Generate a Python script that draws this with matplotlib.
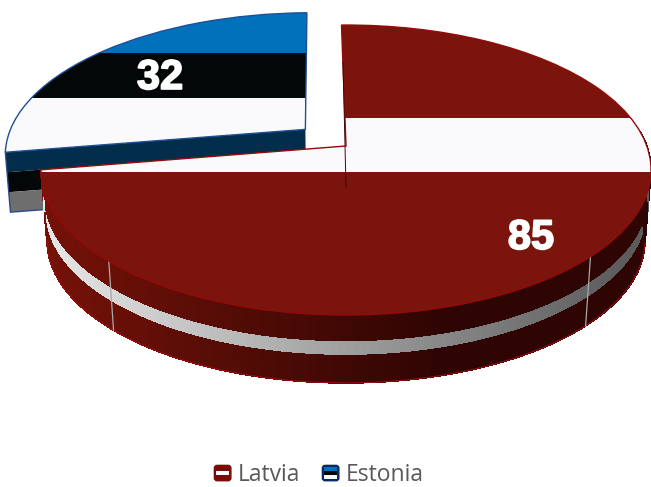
import numpy as np
import matplotlib
matplotlib.use("Agg")
import matplotlib.pyplot as plt
import matplotlib.patheffects as pe
from matplotlib.collections import PolyCollection
from matplotlib.legend_handler import HandlerBase
from matplotlib.patches import FancyBboxPatch, Patch, Rectangle, Wedge
from matplotlib.transforms import Transform

labels = ["Latvia", "Estonia"]
values = [85, 32]
explode = [0, 0.188]

RED = "#7a140c"
BLUE = "#0072bc"
BLACK = "#030708"
WHITE = "#fafafc"


class Persp(Transform):
    # flat disc to screen pixels, the far side of the pie comes out smaller
    input_dims = 2
    output_dims = 2

    def __init__(self, scale=1.0, cy=146.0, cx=346.0):
        super().__init__()
        self.scale = scale
        self.cy = cy
        self.cx = cx

    def transform_non_affine(self, values):
        values = np.asarray(values, dtype=float)
        u, v = values[:, 0], values[:, 1]
        w = 1 + 0.1656 * v
        return np.column_stack([self.cx + self.scale * 300.8 * u / w,
                                self.cy - self.scale * 141 * v / w])


def rim(center, angles):
    a = np.radians(angles)
    return np.column_stack([center[0] + np.cos(a), center[1] + np.sin(a)])


def blend(x, left, right, x_end):
    t = np.clip((x - 41) / (x_end - 41), 0, 1)
    return tuple(np.array(left) * (1 - t) + np.array(right) * t)


class FlagHandler(HandlerBase):
    def __init__(self, edge, stripes):
        super().__init__()
        self.edge = edge
        self.stripes = stripes

    def create_artists(self, legend, orig, xd, yd, width, height, fontsize, trans):
        box = FancyBboxPatch((-xd + 1, -yd + 1), width - 2, height - 2,
                             boxstyle="round,pad=0,rounding_size=2",
                             fc=self.edge, ec=self.edge, lw=1, transform=trans)
        out = [box]
        n = len(self.stripes)
        for i, c in enumerate(self.stripes):
            hh = height * (0.62 if n > 1 else 0.24) / n
            y0 = -yd + height * 0.5 + hh * n / 2 - hh * (i + 1)
            out.append(Rectangle((-xd + width * 0.16, y0), width * 0.68, hh,
                                 fc=c, ec="none", transform=trans))
        return out


fig = plt.figure(figsize=(6.51, 4.87), dpi=100)
ax = fig.add_axes([0, 0, 1, 1])

wedges, _ = ax.pie(values, explode=explode, startangle=91, counterclock=False,
                   colors=[RED, BLUE], wedgeprops={"linewidth": 0})
ax.set_aspect("auto")
ax.set_xlim(0, 651)
ax.set_ylim(487, 0)
ax.axis("off")

top = Persp()
top_e = Persp(cx=348)
latvia, estonia = wedges
latvia.set_transform(top + ax.transData)
estonia.set_transform(top_e + ax.transData)
latvia.set_zorder(6)
estonia.set_zorder(2)

# estonia, side under the cut edge
bottom_e = Persp(0.985, 206, 348)
cut = np.array([estonia.center, rim(estonia.center, [estonia.theta2])[0]])
cut_top = top_e.transform(cut)
cut_bot = bottom_e.transform(cut)
side_cols = ["#022d4b", BLACK, "#6e6e6e"]
for i, c in enumerate(side_cols):
    a = cut_top + (cut_bot - cut_top) * i / 3
    b = cut_top + (cut_bot - cut_top) * (i + 1) / 3
    ax.fill([a[0, 0], a[1, 0], b[1, 0], b[0, 0]], [a[0, 1], a[1, 1], b[1, 1], b[0, 1]],
            color=c, lw=0, zorder=1)
ax.plot([cut_top[1, 0], cut_bot[1, 0], cut_bot[0, 0]],
        [cut_top[1, 1], cut_bot[1, 1], cut_bot[0, 1]], color="#2a4a8a", lw=1, zorder=1.5)

# estonia, top with the flag
for y0, y1, c in [(53, 98, BLACK), (98, 170, WHITE)]:
    r = Rectangle((0, y0), 340, y1 - y0, fc=c, ec="none", zorder=3)
    ax.add_patch(r)
    r.set_clip_path(estonia)
ax.add_patch(Wedge(estonia.center, 1, estonia.theta1, estonia.theta2, fc="none",
                   ec="#1f4f95", lw=1, zorder=4, transform=top_e + ax.transData))

# latvia, outer side in three bands, getting darker to the right
bottom_l = Persp(0.98, 217.3)
angles = np.linspace(latvia.theta1, 6, 141)
rim_top = top.transform(rim(latvia.center, angles))
rim_bot = bottom_l.transform(rim(latvia.center, angles))
bands = [(0, 0.40, (118, 18, 8), (46, 5, 3), 440),
         (0.40, 0.60, (232, 232, 232), (92, 92, 92), 620),
         (0.60, 1, (118, 18, 8), (46, 5, 3), 440)]
for f0, f1, left, right, x_end in bands:
    a = rim_top + (rim_bot - rim_top) * f0
    b = rim_top + (rim_bot - rim_top) * f1
    quads = [[a[i], a[i + 1], b[i + 1], b[i]] for i in range(len(angles) - 1)]
    cols = [np.array(blend(a[i, 0], left, right, x_end)) / 255 for i in range(len(angles) - 1)]
    ax.add_collection(PolyCollection(quads, facecolors=cols, edgecolors=cols, linewidths=0.5,
                                     antialiaseds=False, zorder=5))
front = angles <= -9.5
ax.plot(rim_bot[front, 0], rim_bot[front, 1], color="#9a0f0f", lw=0.8, zorder=5.2)

# seams in the side texture
for ang in [-134, -44]:
    seam_top = top.transform(rim(latvia.center, [ang]))[0]
    seam_bot = bottom_l.transform(rim(latvia.center, [ang]))[0]
    ax.plot([seam_top[0], seam_bot[0]], [seam_top[1], seam_bot[1]],
            color="#a8a8a8", lw=0.9, zorder=5.3)

# latvia, top with the flag
r = Rectangle((0, 118), 651, 54, fc=WHITE, ec="none", zorder=7)
ax.add_patch(r)
r.set_clip_path(latvia)
ax.add_patch(Wedge(latvia.center, 1, latvia.theta1, latvia.theta2, fc="none",
                   ec="#960a0a", lw=1, zorder=8, transform=top + ax.transData))
ax.plot([343, 346], [62, 187], color="#3a0a06", lw=0.7, zorder=8)

stroke = [pe.withStroke(linewidth=1.2, foreground="white")]
ax.text(531, 238, str(values[0]), color="white", fontsize=30, fontweight="bold",
        family="Liberation Sans", ha="center", va="center", zorder=9, path_effects=stroke)
ax.text(160, 78, str(values[1]), color="white", fontsize=30, fontweight="bold",
        family="Liberation Sans", ha="center", va="center", zorder=9, path_effects=stroke)

handles = [Patch(label=labels[0]), Patch(label=labels[1])]
ax.legend(handles=handles, loc="center", bbox_to_anchor=(318.5, 475), bbox_transform=ax.transData,
          ncol=2, frameon=False, labelcolor="#595959",
          prop={"family": "Open Sans", "size": 16.5},
          handlelength=0.84, handleheight=0.84, handletextpad=0.25, columnspacing=0.9,
          borderpad=0, borderaxespad=0,
          handler_map={handles[0]: FlagHandler("#7a0c08", [WHITE]),
                       handles[1]: FlagHandler("#0a2a66", [BLUE, BLACK, WHITE])})

fig.savefig("out.png", dpi=100)
